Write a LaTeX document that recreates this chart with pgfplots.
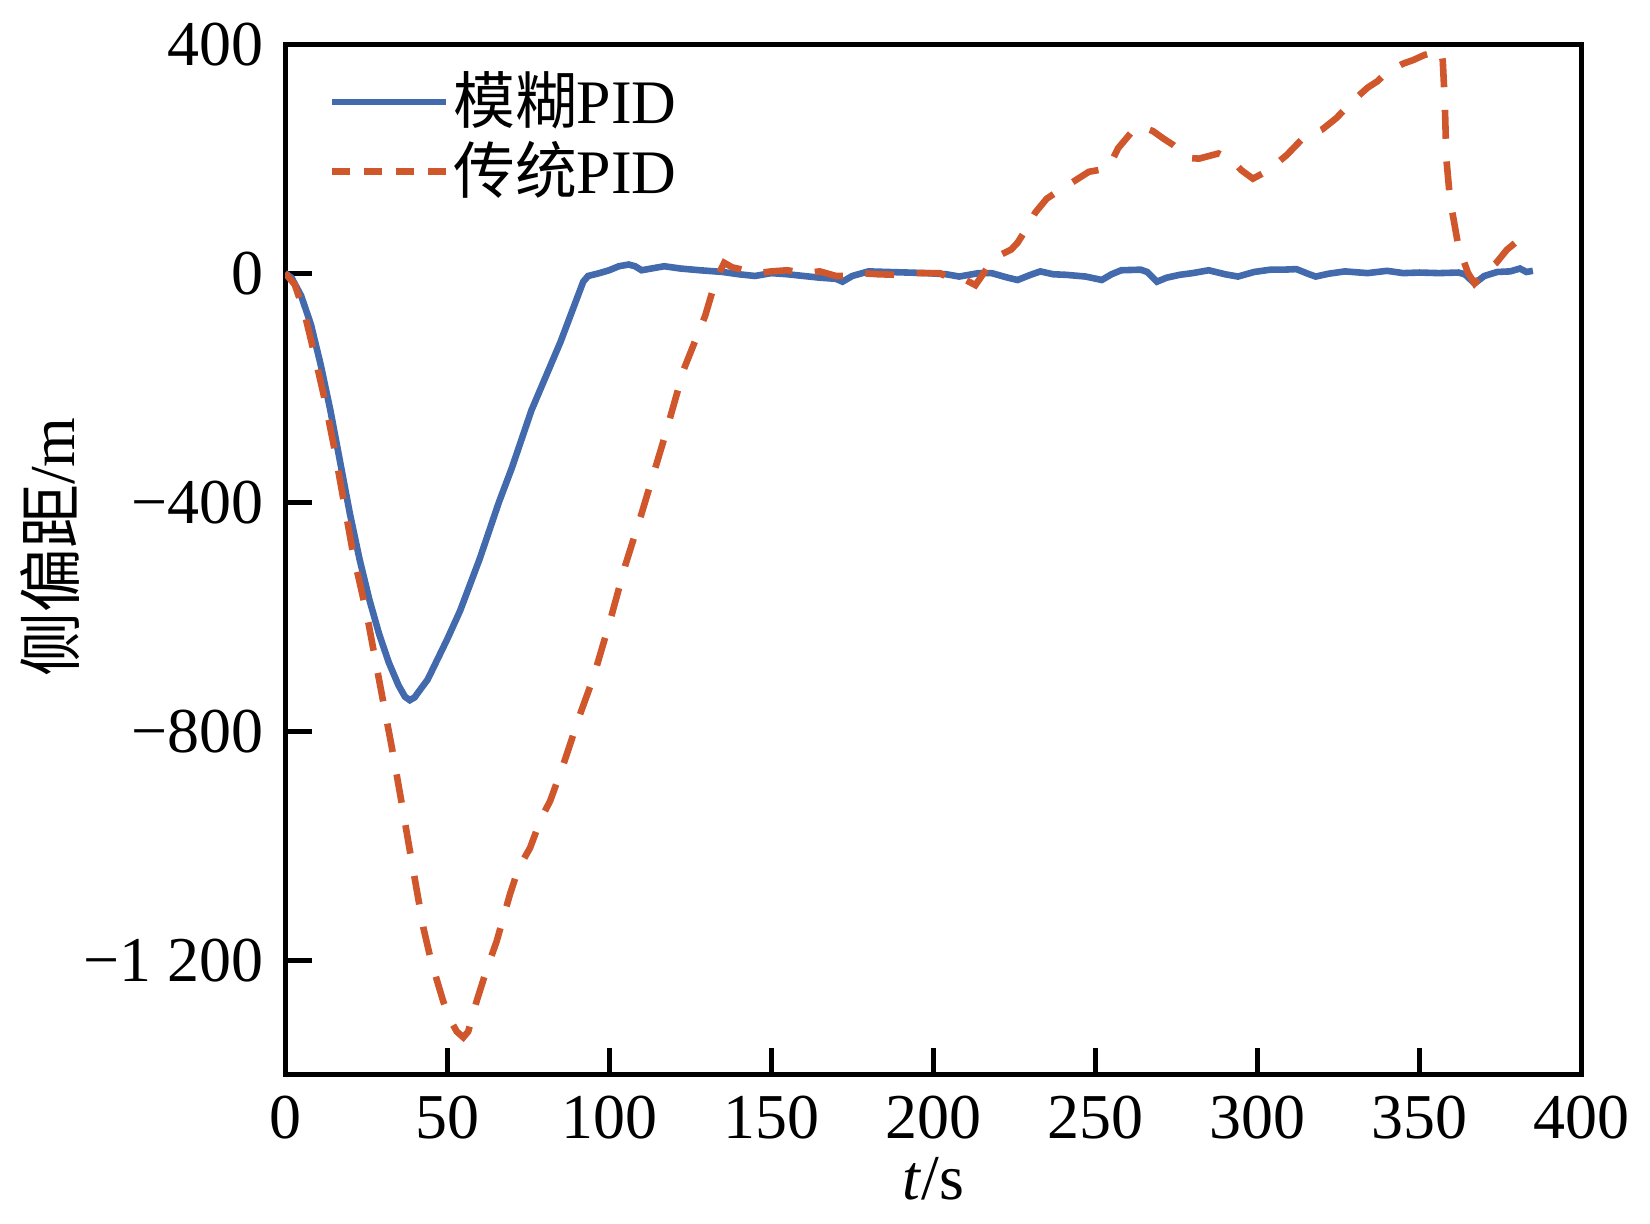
\documentclass[border=0pt]{standalone}
\usepackage{fontspec}
\setmainfont{Liberation Serif}
\newfontfamily\cjk{Noto Sans CJK SC}
\usepackage{pgfplots}
\pgfplotsset{compat=1.18}
\definecolor{fblue}{RGB}{66,106,172}
\definecolor{tred}{RGB}{208,86,44}
\pgfplotsset{dashlegend/.style={legend image code/.code={\draw[##1, dash pattern=on 4.4pt off 3.3pt] (0pt,0pt) -- (27.5pt,0pt);}}}
\begin{document}
\fontsize{15}{18}\selectfont
\begin{tikzpicture}
\begin{axis}[
  scale only axis, width=314.3pt, height=249.8pt,
  xmin=0, xmax=400, ymin=-1400, ymax=400,
  xtick={0,50,100,150,200,250,300,350,400},
  xticklabels={0,50,100,150,200,250,300,350,400},
  ytick={-1200,-800,-400,0,400},
  yticklabels={−1 200,−800,−400,0,400},
  tick align=inside, tick pos=left,
  major tick length=6.5pt,
  every tick/.style={black, line width=1.2pt},
  axis line style={line width=1.2pt},
  tick label style={font=\fontsize{15.5}{18}\selectfont},
  xlabel={\textit{t}/s},
  ylabel={{\cjk 侧偏距}/m},
  x label style={at={(axis description cs:0.5,-0.1217)}, anchor=base, font=\fontsize{15.5}{18}\selectfont},
  y label style={at={(axis description cs:-0.1814,0.512)}, anchor=center, rotate=0, font=\fontsize{15.5}{18}\selectfont},
  legend cell align=left,
  legend style={at={(rel axis cs:0.0333,0.910)}, anchor=west, draw=none, fill=none,
    inner sep=0pt, row sep=0pt, font=\fontsize{15}{18}\selectfont,
    nodes={inner sep=1pt}},
  legend image code/.code={\draw[#1] (0pt,0pt) -- (27.5pt,0pt);},
]
\coordinate (bl) at (rel axis cs:0,0);
\coordinate (tr) at (rel axis cs:1,1);
\addplot[fblue, line width=1.6pt] coordinates {
(0,0) (2,-8) (5,-40) (8,-90) (11,-160) (14,-240) (17,-330) (20,-420)
(23,-500) (26,-570) (29,-630) (32,-680) (35,-720) (37,-740) (38.5,-746)
(40,-741) (41,-733) (44,-710) (47,-675) (50,-640) (54,-590) (57,-545)
(60,-500) (63,-450) (66,-400) (70,-340) (73,-290) (76,-240) (79,-200)
(82,-160) (85,-120) (88,-75) (90,-45) (92,-15) (93.5,-5) (97,0) (100,5)
(103,12) (106,15) (108,12) (110,5) (113,8) (117,12) (122,8) (128,5)
(135,2) (140,-2) (145,-5) (150,0) (155,-2) (160,-5) (165,-8) (170,-10)
(172,-15) (175,-5) (180,3) (186,2) (192,1) (198,0) (204,-2) (208,-6)
(214,0) (218,0) (223,-8) (226,-12) (230,-3) (233,3) (237,-2) (241,-3)
(247,-6) (252,-12) (255,-2) (258,5) (264,6) (266,2) (269,-15) (272,-8)
(276,-3) (280,0) (285,5) (290,-2) (294,-6) (299,2) (304,6) (308,6)
(312,7) (316,-2) (318,-6) (322,-1) (327,3) (334,0) (340,4) (345,0)
(350,1) (356,0) (362,1) (364,-2) (367,-18) (370,-5) (374,2) (378,3)
(381,8) (383,2) (385,4)
};
\addlegendentry{{\cjk 模糊}PID}
\addplot[tred, line width=1.6pt, dash pattern=on 7pt off 5.5pt, dashlegend] coordinates {
(0,0) (3,-20) (6,-70) (9,-140) (12,-215) (15,-300) (18,-395) (21,-490)
(25.2,-595) (28,-680) (30,-740) (33,-830) (35.5,-910) (39,-1025)
(42.7,-1144) (45,-1200) (48.8,-1272) (51,-1305) (53,-1325) (55,-1335)
(56.5,-1325) (59.1,-1272) (62,-1220) (65.3,-1167) (69.4,-1085)
(72,-1040) (75.6,-1004) (78.5,-960) (79.7,-945) (81.8,-922) (85.9,-858)
(91,-771) (95.1,-707) (100.3,-607) (105,-510) (110,-420) (116.6,-296)
(123.1,-167) (129.6,-75) (133,-10) (135.5,18) (138,10) (142,5) (146,0)
(150,3) (155,5) (160,0) (165,3) (170,-5) (175,-5) (178,0) (183,-2)
(189,-3) (194,0) (198,0) (202,0) (205,-9) (210,-12) (213,-21) (217,12)
(220,30) (224,41) (226,53) (229,80) (231.5,106) (235,130) (239,145)
(243,159) (248,177) (254,183) (257,218) (261,245) (263.8,257)
(267.8,248) (271,235) (274,224) (279,201) (282,200) (286,206) (288,209)
(292,198) (295,180) (298.6,165) (302.6,177) (306,192) (309,206)
(313.6,233) (317,243) (320,251) (324.4,271) (329.5,301) (334,324)
(337,335) (340,351) (345,366) (348,372) (351.5,381) (356.7,389)
(357.2,370) (357.8,300) (358.3,200) (359.4,130) (362,47) (365,0)
(367,-18) (370,0) (373.7,18) (377,41) (380,55)
};
\addlegendentry{{\cjk 传统}PID}
\end{axis}
\pgfresetboundingbox
\path[use as bounding box] ([shift={(-69.1pt,-36.2pt)}]bl) rectangle ([shift={(16.6pt,10.7pt)}]tr);
\end{tikzpicture}
\end{document}
